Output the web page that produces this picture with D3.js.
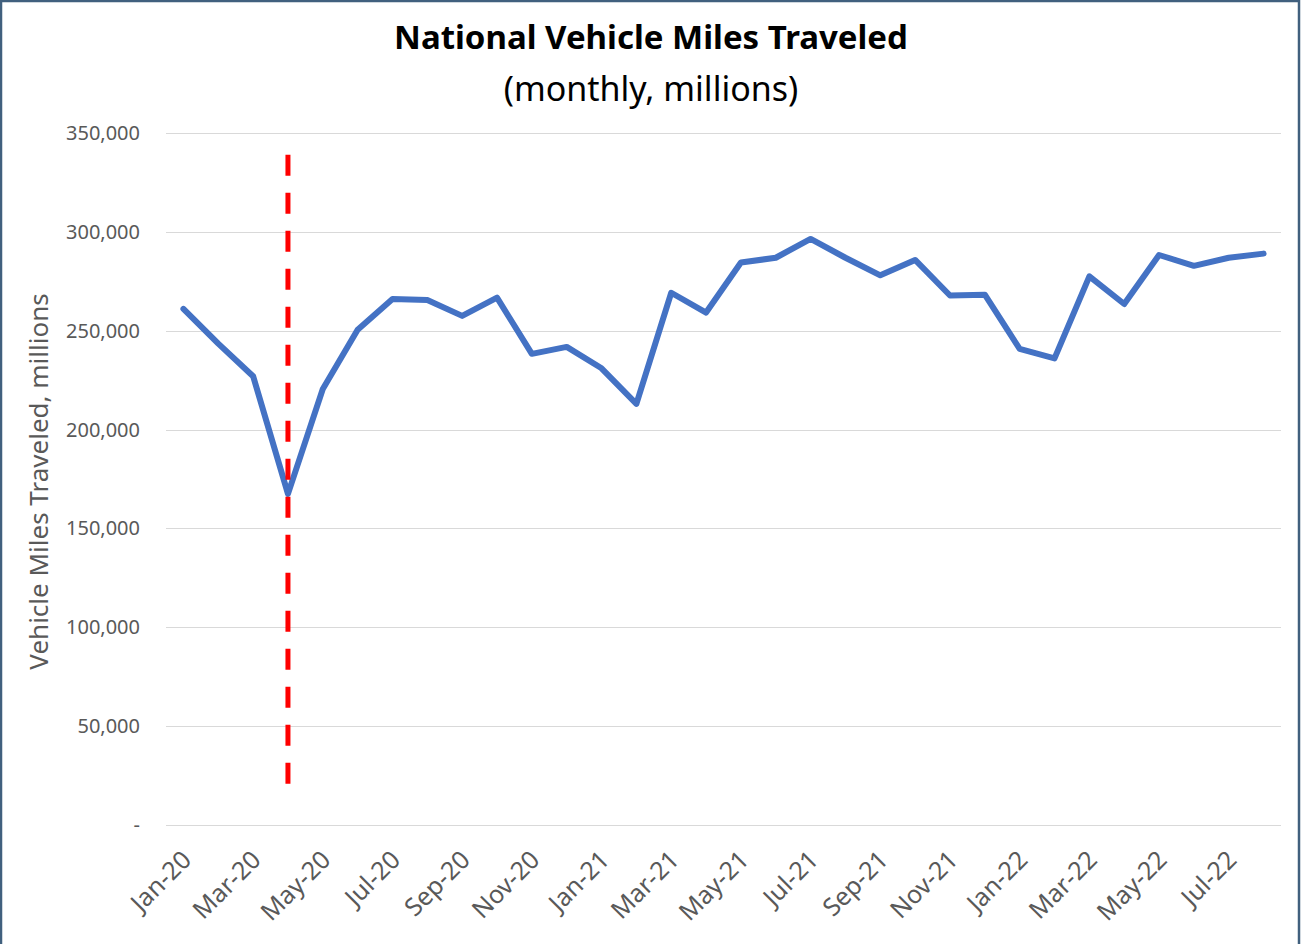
<!DOCTYPE html>
<html>
<head>
<meta charset="utf-8">
<script src="https://cdn.jsdelivr.net/npm/d3@7"></script>
<style>
  html, body { margin: 0; padding: 0; background: #fff; }
  svg { display: block; font-family: "Noto Sans", "Open Sans", sans-serif; }
</style>
</head>
<body>
<script>
// monthly vehicle miles traveled, millions
const months = ["Jan-20","Feb-20","Mar-20","Apr-20","May-20","Jun-20","Jul-20","Aug-20","Sep-20","Oct-20","Nov-20","Dec-20",
  "Jan-21","Feb-21","Mar-21","Apr-21","May-21","Jun-21","Jul-21","Aug-21","Sep-21","Oct-21","Nov-21","Dec-21",
  "Jan-22","Feb-22","Mar-22","Apr-22","May-22","Jun-22","Jul-22","Aug-22"];
const vmt = [261000, 243500, 227000, 167500, 220500, 250500, 266000, 265500, 257500, 266700, 238300, 241800,
  231000, 213000, 269200, 259200, 284500, 286900, 296400, 286900, 278000, 285800, 267800, 268200,
  240800, 236000, 277500, 263500, 288300, 282800, 286900, 289000];
const yTicks = [0, 50000, 100000, 150000, 200000, 250000, 300000, 350000];
const markerMonth = "Apr-20";

const width = 1303, height = 944;
const margin = { top: 133, right: 22, bottom: 118, left: 166 };

const svg = d3.select("body").append("svg")
    .attr("width", width)
    .attr("height", height);

// frame
svg.append("rect")
    .attr("x", 1).attr("y", 1)
    .attr("width", 1298).attr("height", height + 4)
    .attr("fill", "none")
    .attr("stroke", "#41607e")
    .attr("stroke-width", 2.5);

const x = d3.scaleBand()
    .domain(months)
    .range([margin.left, width - margin.right])
    .padding(0);

const y = d3.scaleLinear()
    .domain([0, 350000])
    .range([height - margin.bottom - 1, margin.top]);

const fmt = d3.format(",");

// gridlines
svg.append("g")
    .selectAll("line")
    .data(yTicks)
    .enter()
    .append("line")
    .attr("x1", margin.left)
    .attr("x2", width - margin.right)
    .attr("y1", d => Math.round(y(d)) + 0.5)
    .attr("y2", d => Math.round(y(d)) + 0.5)
    .attr("stroke", "#d9d9d9")
    .attr("stroke-width", 1.2);

// y tick labels
svg.append("g")
    .selectAll("text")
    .data(yTicks)
    .enter()
    .append("text")
    .attr("x", 140)
    .attr("y", d => y(d))
    .attr("dy", "0.35em")
    .attr("text-anchor", "end")
    .attr("fill", "#595959")
    .attr("font-size", 20)
    .text(d => d === 0 ? "-" : fmt(d));

// x tick labels, every other month
const xLabels = months.filter((m, i) => i % 2 === 0);
svg.append("g")
    .selectAll("text")
    .data(xLabels)
    .enter()
    .append("text")
    .attr("transform", d => `translate(${x(d) + x.bandwidth() / 2 - 3},${height - margin.bottom + 23}) rotate(-45)`)
    .attr("text-anchor", "end")
    .attr("dy", "0.7em")
    .attr("fill", "#595959")
    .attr("font-size", 25)
    .text(d => d);

// y axis title
svg.append("text")
    .attr("transform", `translate(48,${(margin.top + height - margin.bottom) / 2 + 2}) rotate(-90)`)
    .attr("text-anchor", "middle")
    .attr("fill", "#595959")
    .attr("font-size", 26)
    .text("Vehicle Miles Traveled, millions");

// titles
svg.append("text")
    .attr("x", 651).attr("y", 49)
    .attr("text-anchor", "middle")
    .attr("font-size", 33)
    .attr("font-weight", "bold")
    .attr("fill", "#000")
    .text("National Vehicle Miles Traveled");

svg.append("text")
    .attr("x", 651).attr("y", 101)
    .attr("text-anchor", "middle")
    .attr("font-size", 34)
    .attr("fill", "#000")
    .text("(monthly, millions)");

// the data line
const line = d3.line()
    .x((d, i) => x(months[i]) + x.bandwidth() / 2)
    .y(d => y(d));

svg.append("path")
    .datum(vmt)
    .attr("d", line)
    .attr("fill", "none")
    .attr("stroke", "#4472c4")
    .attr("stroke-width", 6)
    .attr("stroke-linejoin", "round")
    .attr("stroke-linecap", "round");

// red dashed marker
const mx = x(markerMonth) + x.bandwidth() / 2;
svg.append("line")
    .attr("x1", mx).attr("x2", mx)
    .attr("y1", y(339000)).attr("y2", y(17000))
    .attr("stroke", "#ff0000")
    .attr("stroke-width", 5)
    .attr("stroke-dasharray", "21,17");
</script>
</body>
</html>
